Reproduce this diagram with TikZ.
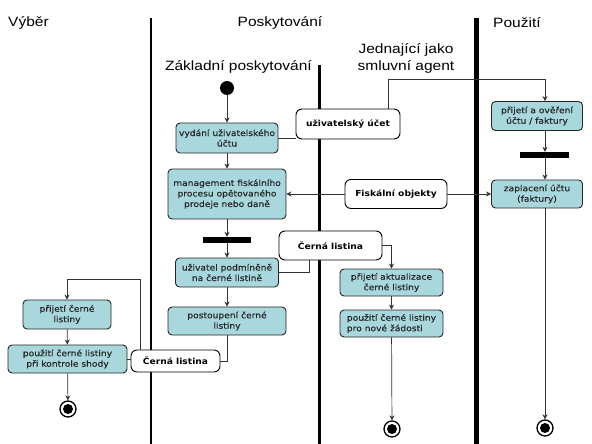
\documentclass[tikz,border=0pt]{standalone}
\usepackage{fontspec}
\usetikzlibrary{arrows.meta}
\newfontfamily\hdr[FakeStretch=1.15]{Liberation Sans}
\newfontfamily\bx[FakeStretch=1.1]{DejaVu Sans}
\newfontfamily\bxt[FakeStretch=1.1,FakeBold=0.4]{DejaVu Sans}
\definecolor{actfill}{RGB}{168,216,222}
\begin{document}
\begin{tikzpicture}[x=1pt,y=-1pt,
 act/.style={draw=black!85, fill=actfill, rounded corners=4pt, line width=0.9pt, inner sep=0pt, align=center, font=\bxt\fontsize{8.3}{10.5}\selectfont, text=black!85},
 obj/.style={draw=black, fill=white, rounded corners=6pt, line width=0.9pt, inner sep=0pt, align=center, font=\bx\bfseries\fontsize{8.3}{10}\selectfont},
 conn/.style={draw=black!80, line width=0.7pt},
 arr/.style={conn, -{Stealth[length=5pt,width=5pt]}},
 barnode/.style={fill=black, inner sep=0pt, minimum height=6pt},
 hd/.style={font=\hdr\fontsize{13.5}{17}\selectfont, inner sep=0pt, align=center},
 endnode/.style={circle, draw=black, line width=1.3pt, fill=white, minimum size=16pt, inner sep=0pt,
   path picture={\fill[black] (path picture bounding box.center) circle (5pt);}}]
\useasboundingbox (0,0) rectangle (592,444);
\fill[white] (0,0) rectangle (592,444);

% swimlane separators
\draw[line width=2.5pt] (151,18) -- (151,444);
\draw[line width=3pt] (319,65) -- (319,444);
\draw[line width=5pt] (476,18) -- (476,444);

% headers
\node[hd, anchor=west] (hV) at (8,23) {Výběr};
\node[hd] (hP) at (280,23) {Poskytování};
\node[hd, anchor=west] (hU) at (493,23) {Použití};
\node[hd] (hJ) at (406,58) {Jednající jako\\smluvní agent};
\node[hd, anchor=east] (hZ) at (312,67) {Základní poskytování};

% start
\node[circle, fill=black, minimum size=14pt, inner sep=0pt] (start) at (227,88) {};

% central column
\node[act, minimum width=102pt, minimum height=30pt] (vyd) at (227,138) {vydání uživatelského\\účtu};
\node[act, minimum width=118pt, minimum height=50pt] (mgmt) at (227,194) {management fiskálního\\procesu opětovaného\\prodeje nebo daně};
\node[barnode, minimum width=48pt] (bar1) at (227,240) {};
\node[act, minimum width=103pt, minimum height=29pt] (podm) at (227,272.5) {uživatel podmíněně\\na černé listině};
\node[act, minimum width=118pt, minimum height=28pt] (post) at (227,321) {postoupení černé\\listiny};

% left column
\node[act, minimum width=88pt, minimum height=29pt] (prij) at (67,314.5) {přijetí černé\\listiny};
\node[act, minimum width=119pt, minimum height=28pt] (pouz) at (67.5,359) {použití černé listiny\\při kontrole shody};
\node[endnode] (end1) at (68,409) {};

% objects
\node[obj, minimum width=89pt, minimum height=22pt] (cerna2) at (175.5,361) {Černá listina};
\node[obj, minimum width=104pt, minimum height=30pt] (ucet) at (348,124) {uživatelský účet};
\node[obj, minimum width=102pt, minimum height=29pt] (fisk) at (396,194) {Fiskální objekty};
\node[obj, minimum width=103pt, minimum height=29pt] (cerna1) at (330.5,245.5) {Černá listina};

% agent column
\node[act, minimum width=103pt, minimum height=27pt] (akt) at (391.5,282.5) {přijetí aktualizace\\černé listiny};
\node[act, minimum width=103pt, minimum height=27pt, align=left] (pnz) at (391.5,323.5) {použití černé listiny\\pro nové žádosti};
\node[endnode] (end2) at (392,429) {};

% right column
\node[act, minimum width=91pt, minimum height=29pt] (over) at (537,116) {přijetí a ověření\\účtu / faktury};
\node[barnode, minimum width=49pt] (bar2) at (544,155) {};
\node[act, minimum width=91pt, minimum height=28pt] (zapl) at (537,194) {zaplacení účtu\\(faktury)};
\node[endnode] (end3) at (545,428) {};

% helper coordinates
\coordinate (uc) at (388,79);
\coordinate (c1) at (309,272);
\coordinate (c2) at (140,279);

% connectors
\draw[arr] (start) -- (vyd);
\draw[arr] (vyd) -- (mgmt);
\draw[arr] (mgmt) -- (bar1);
\draw[arr] (bar1) -- (podm);
\draw[arr] (podm) -- (post);
\draw[conn] (post.south) |- (cerna2.east);
\draw[arr] (cerna2.north -| c2) -- (c2) -| (prij.north);
\draw[arr] (prij) -- (pouz);
\draw[arr] (pouz) -- (end1);
\draw[conn] (pouz.east) -- (pouz.east -| cerna2.west);

\draw[conn] (vyd.east) -- (vyd.east -| ucet.west);
\draw[arr] (ucet.north -| uc) -- (uc) -| (over.north -| end3);
\draw[arr] (fisk.west) -- (fisk.west -| mgmt.east);
\draw[arr] (fisk.east) -- (fisk.east -| zapl.west);

\draw[conn] (podm.east) -- (podm.east -| c1) -- (cerna1.south -| c1);
\draw[arr] (cerna1.east) -| (akt.north);
\draw[arr] (akt) -- (pnz);
\draw[arr] (pnz) -- (end2);

\draw[arr] (over.south -| end3) -- (bar2.north -| end3);
\draw[arr] (bar2.south -| end3) -- (zapl.north -| end3);
\draw[arr] (zapl.south -| end3) -- (end3);
\end{tikzpicture}
\end{document}
